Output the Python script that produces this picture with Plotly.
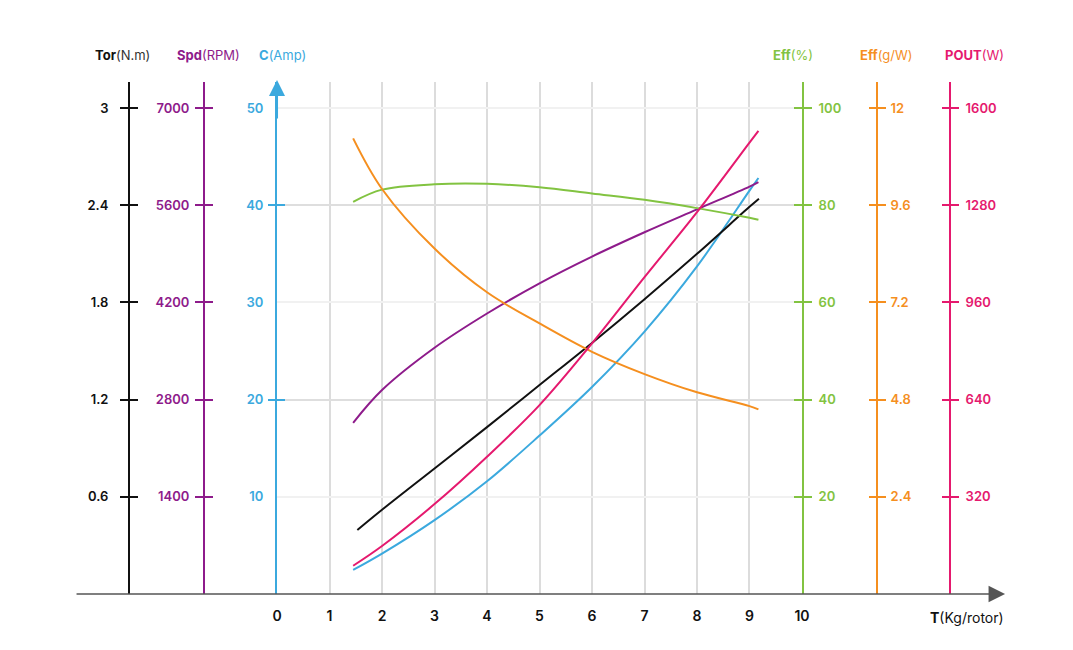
import plotly.graph_objects as go

# ---------------- data ----------------
thrust = [1.45, 2, 3, 4, 5, 6, 7, 8, 9, 9.17]          # T (Kg/rotor)
thrust_tor = [1.53, 2, 3, 4, 5, 6, 7, 8, 9, 9.18]
torque = [0.395, 0.52, 0.775, 1.03, 1.29, 1.55, 1.82, 2.10, 2.39, 2.44]        # N.m
speed = [2466, 2938, 3547, 4040, 4475, 4860, 5210, 5540, 5868, 5934]           # RPM
current = [2.47, 4.15, 7.6, 11.6, 16.3, 21.3, 27.0, 33.7, 41.5, 42.8]          # Amp
eff_pct = [80.7, 83.2, 84.3, 84.4, 83.7, 82.4, 81.1, 79.4, 77.4, 77.0]         # %
eff_gw = [11.25, 10.0, 8.53, 7.45, 6.68, 5.98, 5.43, 4.98, 4.64, 4.56]        # g/W
power = [93, 158, 296, 452, 622, 825, 1043, 1257, 1486, 1525]                 # W

x_ticks = list(range(0, 11))
tor_ticks = [0.6, 1.2, 1.8, 2.4, 3]
tor_labels = ["0.6", "1.2", "1.8", "2.4", "3"]
spd_ticks = [1400, 2800, 4200, 5600, 7000]
cur_ticks = [10, 20, 30, 40, 50]
cur_marks = [20, 40]
effp_ticks = [20, 40, 60, 80, 100]
effg_ticks = [2.4, 4.8, 7.2, 9.6, 12]
effg_labels = ["2.4", "4.8", "7.2", "9.6", "12"]
pout_ticks = [320, 640, 960, 1280, 1600]

# ---------------- style ----------------
BLACK = "#111111"
PURPLE = "#8E1B8B"
BLUE = "#3BA9DE"
GREEN = "#82C341"
ORANGE = "#F58F1F"
PINK = "#E5196E"
FONT = "Inter"
TOP = 1.0535  # headroom above the highest tick

fig = go.Figure()

def add_line(x, y, color, yaxis):
    fig.add_trace(go.Scatter(x=x, y=y, mode="lines", yaxis=yaxis,
                             line=dict(color=color, width=2, shape="spline", smoothing=1.0),
                             hoverinfo="skip"))

add_line(thrust, eff_pct, GREEN, "y4")
add_line(thrust, eff_gw, ORANGE, "y5")
add_line(thrust, speed, PURPLE, "y3")
add_line(thrust_tor, torque, BLACK, "y2")
add_line(thrust, power, PINK, "y6")
add_line(thrust, current, BLUE, "y")

def yax(rng_max, tickvals, ticktext, color, side, anchor="free", position=None,
        labels=True, ticks="outside", tickcolor=None, showline=True, standoff=0,
        showgrid=False, gridcolor=None, overlay=True):
    d = dict(range=[0, rng_max], tickmode="array", tickvals=tickvals,
             side=side, anchor=anchor, zeroline=False,
             showline=showline, linecolor=color, linewidth=2,
             ticks=ticks, ticklen=8, tickwidth=1.5,
             tickcolor=tickcolor if tickcolor else color,
             showticklabels=labels, fixedrange=True,
             tickfont=dict(family=FONT, size=13, color=color, weight=600),
             ticklabelstandoff=standoff,
             showgrid=showgrid)
    if ticktext is not None:
        d["ticktext"] = ticktext
    if gridcolor:
        d["gridcolor"] = gridcolor
        d["gridwidth"] = 1.5
    if position is not None:
        d["position"] = position
    if overlay:
        d["overlaying"] = "y"
    return d

P_TOR, P_SPD, P_EFFG, P_POUT = 0.0582, 0.1390, 0.8642, 0.9429

fig.update_layout(
    width=1073, height=650,
    margin=dict(l=67, r=78, t=74, b=64),
    plot_bgcolor="white", paper_bgcolor="white",
    showlegend=False,
    font=dict(family=FONT, size=13),
    xaxis=dict(domain=[0.2177, 0.7834], range=[0, 10], tickmode="array", tickvals=x_ticks,
               showgrid=True, gridcolor="#dcdcdc", gridwidth=1.5, zeroline=False,
               showline=False, ticks="", ticklabelstandoff=12, fixedrange=True,
               tickfont=dict(family=FONT, size=14, color=BLACK, weight=600)),
    # current (main)
    yaxis=yax(max(cur_ticks) * TOP, cur_ticks, None, BLUE, "left", anchor="x",
              tickcolor="rgba(0,0,0,0)", standoff=1, showgrid=True, gridcolor="#f1f1f1",
              overlay=False),
    yaxis2=yax(max(tor_ticks) * TOP, tor_ticks, tor_labels, BLACK, "left", position=P_TOR, standoff=9),
    yaxis3=yax(max(spd_ticks) * TOP, spd_ticks, None, PURPLE, "left", position=P_SPD, standoff=3),
    yaxis4=yax(max(effp_ticks) * TOP, effp_ticks, None, GREEN, "right", anchor="x", standoff=4),
    yaxis5=yax(max(effg_ticks) * TOP, effg_ticks, effg_labels, ORANGE, "right", position=P_EFFG, standoff=2),
    yaxis6=yax(max(pout_ticks) * TOP, pout_ticks, None, PINK, "right", position=P_POUT, standoff=4),
    # twin axes for crossing tick marks
    yaxis7=yax(max(cur_ticks) * TOP, cur_marks, None, BLUE, "left", anchor="x", labels=False,
               showline=False, showgrid=True, gridcolor="#dedede"),
    yaxis8=yax(max(cur_ticks) * TOP, cur_marks, None, BLUE, "left", anchor="x", labels=False,
               showline=False, ticks="inside"),
    yaxis9=yax(max(tor_ticks) * TOP, tor_ticks, None, BLACK, "left", position=P_TOR,
               labels=False, showline=False, ticks="inside"),
    yaxis10=yax(max(spd_ticks) * TOP, spd_ticks, None, PURPLE, "left", position=P_SPD,
                labels=False, showline=False, ticks="inside"),
    yaxis11=yax(max(effp_ticks) * TOP, effp_ticks, None, GREEN, "right", anchor="x",
                labels=False, showline=False, ticks="inside"),
    yaxis12=yax(max(effg_ticks) * TOP, effg_ticks, None, ORANGE, "right", position=P_EFFG,
                labels=False, showline=False, ticks="inside"),
    yaxis13=yax(max(pout_ticks) * TOP, pout_ticks, None, PINK, "right", position=P_POUT,
                labels=False, showline=False, ticks="inside"),
)

# invisible traces so the twin axes are drawn
for k in range(7, 14):
    fig.add_trace(go.Scatter(x=[None], y=[None], yaxis=f"y{k}", showlegend=False, hoverinfo="skip"))

# axis titles
TY = 1.0527
def title(xpx, text):
    fig.add_annotation(x=(xpx - 75) / 928, y=TY, xref="paper", yref="paper",
                       xanchor="left", yanchor="middle", showarrow=False, text=text,
                       font=dict(family=FONT, size=13))

title(93, f"<span style='color:{BLACK}'><b>Tor</b></span><span style='color:#333'>(N.m)</span>")
title(175, f"<span style='color:{PURPLE}'><b>Spd</b>(RPM)</span>")
title(257, f"<span style='color:{BLUE}'><b>C</b>(Amp)</span>")
title(771, f"<span style='color:{GREEN}'><b>Eff</b>(%)</span>")
title(858, f"<span style='color:{ORANGE}'><b>Eff</b>(g/W)</span>")
title(943, f"<span style='color:{PINK}'><b>POUT</b>(W)</span>")

fig.add_annotation(x=1.003, y=(594 - 617) / 512, xref="paper", yref="paper",
                   xanchor="right", yanchor="middle", showarrow=False,
                   text=f"<b>T</b>(Kg/rotor)", font=dict(family=FONT, size=14, color=BLACK))

# horizontal base axis with arrow
fig.add_annotation(x=1.0022, y=0, xref="paper", yref="paper", ax=-930, ay=0,
                   showarrow=True, arrowhead=2, arrowsize=2.2, arrowwidth=1.5,
                   arrowcolor="#555555", text="", standoff=0)
# arrow on top of current axis
fig.add_annotation(x=0, y=(594 - 80) / 512, xref="x", yref="paper", ax=0, ay=40,
                   showarrow=True, arrowhead=2, arrowsize=1.6, arrowwidth=2,
                   arrowcolor=BLUE, text="", standoff=0)

fig.write_html("out.html")
